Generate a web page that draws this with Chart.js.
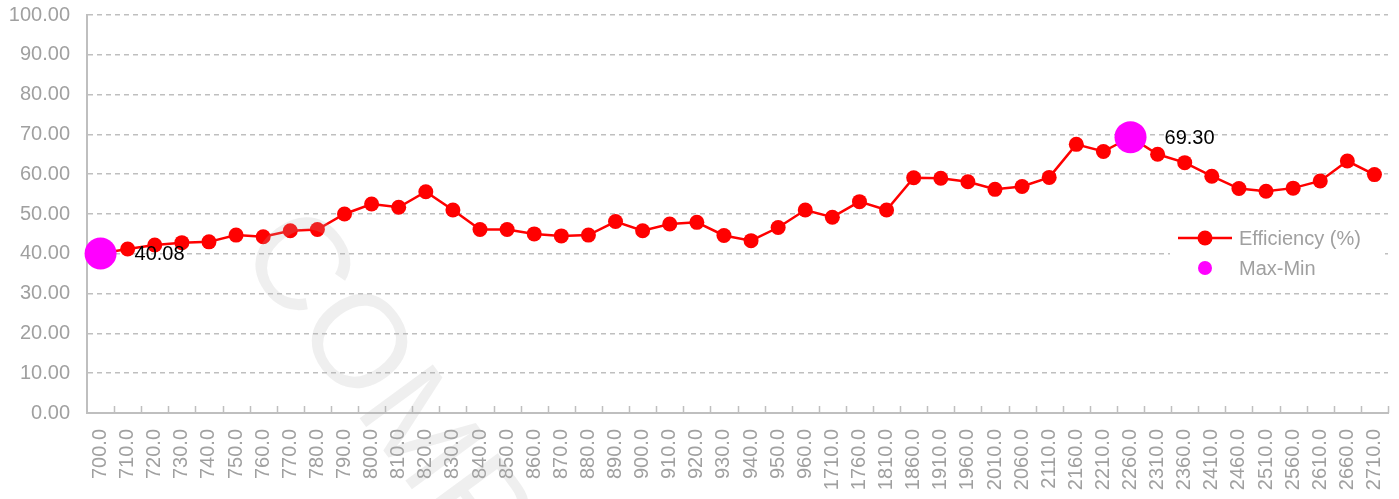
<!DOCTYPE html>
<html>
<head>
<meta charset="utf-8">
<script src="https://cdn.jsdelivr.net/npm/chart.js@4.4.1/dist/chart.umd.min.js"></script>
<style>
  html, body { margin: 0; padding: 0; background: #fff; overflow: hidden; }
  #wrap { width: 1399px; height: 499px; overflow: hidden; }
  canvas { display: block; }
</style>
</head>
<body>
<div id="wrap"><canvas id="effChart" width="1399" height="499"></canvas></div>
<script>
// chart data
const categories = ['700.0','710.0','720.0','730.0','740.0','750.0','760.0','770.0','780.0','790.0',
  '800.0','810.0','820.0','830.0','840.0','850.0','860.0','870.0','880.0','890.0',
  '900.0','910.0','920.0','930.0','940.0','950.0','960.0','1710.0','1760.0','1810.0',
  '1860.0','1910.0','1960.0','2010.0','2060.0','2110.0','2160.0','2210.0','2260.0','2310.0',
  '2360.0','2410.0','2460.0','2510.0','2560.0','2610.0','2660.0','2710.0'];

const efficiency = [40.08, 41.2, 42.2, 42.8, 43.0, 44.7, 44.3, 45.8, 46.1, 50.0,
  52.5, 51.7, 55.6, 51.0, 46.1, 46.1, 45.0, 44.5, 44.7, 48.1,
  45.8, 47.5, 47.9, 44.6, 43.3, 46.6, 51.0, 49.2, 53.1, 51.0,
  59.1, 59.0, 58.1, 56.2, 56.9, 59.2, 67.5, 65.7, 69.30, 65.0,
  62.9, 59.5, 56.4, 55.7, 56.5, 58.3, 63.3, 59.9];

const yTicks = [0, 10, 20, 30, 40, 50, 60, 70, 80, 90, 100];

// max and min points of the efficiency series
const maxVal = Math.max(...efficiency);
const minVal = Math.min(...efficiency);
const maxMin = efficiency.map(v => (v === maxVal || v === minVal) ? v : null);

const FONT = "'Liberation Sans', Arial, sans-serif";
const GRAY = '#a0a0a0';
const AXIS = '#bfbfbf';

// inner tick marks on the x axis (between categories)
const innerTicks = {
  id: 'innerTicks',
  afterDatasetsDraw(chart) {
    const x = chart.scales.x;
    const ctx = chart.ctx;
    const half = (x.getPixelForValue(1) - x.getPixelForValue(0)) / 2;
    ctx.save();
    ctx.strokeStyle = AXIS;
    ctx.lineWidth = 1.5;
    for (let i = 0; i < categories.length; i++) {
      const px = Math.round(x.getPixelForValue(i) + half) + 0.5;
      ctx.beginPath();
      ctx.moveTo(px, x.top);
      ctx.lineTo(px, x.top - 7);
      ctx.stroke();
    }
    ctx.restore();
  }
};

// value labels next to the max / min points
const maxMinLabels = {
  id: 'maxMinLabels',
  afterDatasetsDraw(chart) {
    const meta = chart.getDatasetMeta(1);
    const ctx = chart.ctx;
    ctx.save();
    ctx.font = '20px ' + FONT;
    ctx.fillStyle = '#000';
    ctx.textAlign = 'left';
    ctx.textBaseline = 'middle';
    meta.data.forEach((pt, i) => {
      const v = maxMin[i];
      if (v === null) return;
      ctx.fillText(v.toFixed(2), pt.x + 34, pt.y + 1);
    });
    ctx.restore();
  }
};

// faint watermark + legend drawn inside the plot
const overlay = {
  id: 'overlay',
  afterDraw(chart) {
    const ctx = chart.ctx;
    const area = chart.chartArea;

    ctx.save();
    ctx.translate(236, 250);
    ctx.rotate(53.7 * Math.PI / 180);
    ctx.font = '132px ' + FONT;
    ctx.fillStyle = 'rgba(176,176,176,0.2)';
    ctx.textBaseline = 'alphabetic';
    ctx.fillText('COMPANY', 0, 0);
    ctx.restore();

    // legend
    const lx = area.right - 210;
    const ly = area.top + 223;
    ctx.save();
    ctx.fillStyle = '#fff';
    ctx.fillRect(lx - 8, ly - 14, 215, 58);
    ctx.strokeStyle = '#ff0000';
    ctx.lineWidth = 2.5;
    ctx.beginPath();
    ctx.moveTo(lx, ly);
    ctx.lineTo(lx + 54, ly);
    ctx.stroke();
    ctx.fillStyle = '#ff0000';
    ctx.beginPath();
    ctx.arc(lx + 27, ly, 7.5, 0, Math.PI * 2);
    ctx.fill();
    ctx.fillStyle = '#ff00ff';
    ctx.beginPath();
    ctx.arc(lx + 27, ly + 30, 7, 0, Math.PI * 2);
    ctx.fill();
    ctx.font = '20px ' + FONT;
    ctx.fillStyle = GRAY;
    ctx.textAlign = 'left';
    ctx.textBaseline = 'middle';
    ctx.fillText('Efficiency (%)', lx + 61, ly + 1);
    ctx.fillText('Max-Min', lx + 61, ly + 31);
    ctx.restore();
  }
};

const ctx = document.getElementById('effChart').getContext('2d');
new Chart(ctx, {
  type: 'line',
  data: {
    labels: categories,
    datasets: [
      {
        label: 'Efficiency (%)',
        data: efficiency,
        borderColor: '#ff0000',
        backgroundColor: '#ff0000',
        borderWidth: 2.5,
        tension: 0,
        pointRadius: 7.5,
        pointBorderWidth: 0,
        pointBackgroundColor: '#ff0000',
        order: 1
      },
      {
        label: 'Max-Min',
        data: maxMin,
        showLine: false,
        pointRadius: 16,
        pointBorderWidth: 0,
        pointBackgroundColor: '#ff00ff',
        backgroundColor: '#ff00ff',
        order: 0
      }
    ]
  },
  options: {
    responsive: false,
    animation: false,
    devicePixelRatio: 1,
    layout: { autoPadding: false, padding: { top: 15, right: 11, left: 0, bottom: 0 } },
    plugins: {
      legend: { display: false },
      tooltip: { enabled: false }
    },
    scales: {
      x: {
        offset: true,
        afterFit(scale) {
          scale.height = 86;
          scale.paddingLeft = 0;
          scale.paddingRight = 0;
        },
        ticks: {
          autoSkip: false,
          minRotation: 90,
          maxRotation: 90,
          padding: 8,
          color: GRAY,
          font: { family: FONT, size: 20 }
        },
        grid: { display: false },
        border: { display: true, color: AXIS, width: 2 }
      },
      y: {
        min: 0,
        max: 100,
        afterFit(scale) {
          scale.width = 87;
          scale.paddingTop = 0;
          scale.paddingBottom = 0;
        },
        afterBuildTicks(scale) { scale.ticks = yTicks.map(v => ({ value: v })); },
        ticks: {
          padding: 17,
          color: GRAY,
          font: { family: FONT, size: 20 },
          callback: v => Number(v).toFixed(2)
        },
        grid: { color: AXIS, lineWidth: 1.5, drawTicks: false },
        border: { display: true, color: AXIS, width: 2, dash: [5, 4] }
      }
    }
  },
  plugins: [innerTicks, maxMinLabels, overlay]
});
</script>
</body>
</html>
